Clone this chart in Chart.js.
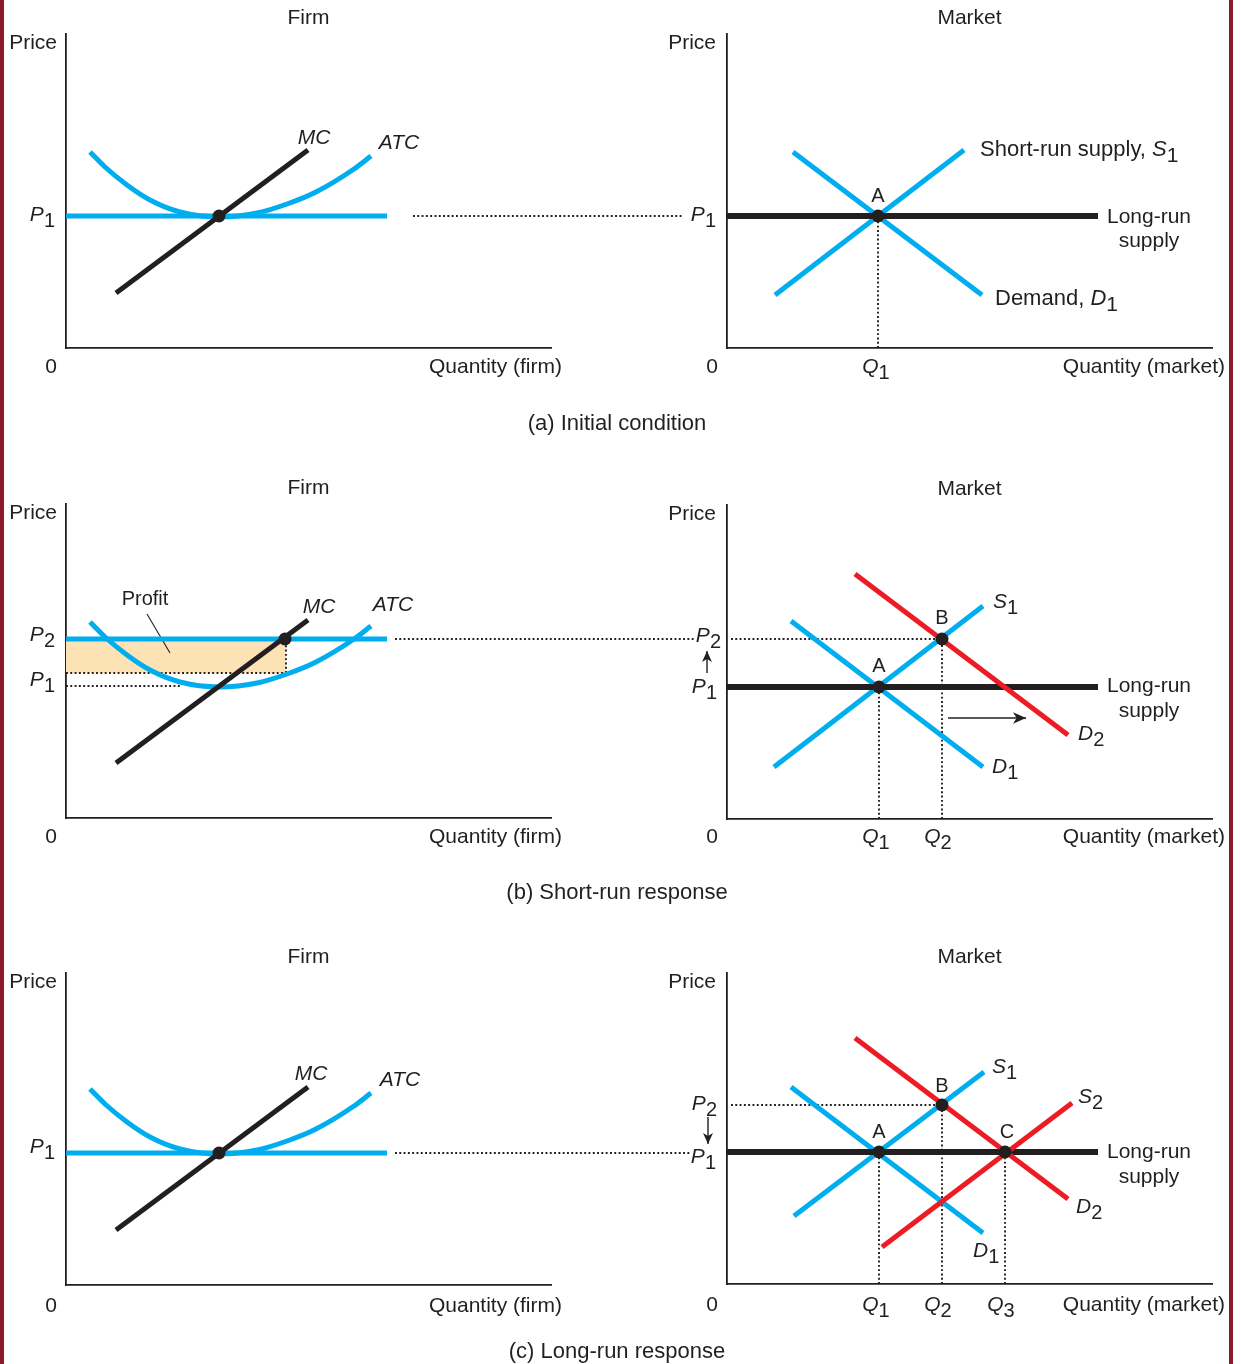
<!DOCTYPE html>
<html>
<head>
<meta charset="utf-8">
<title>Firm and market response to a rise in demand</title>
<script src="https://cdn.jsdelivr.net/npm/chart.js"></script>
<style>
  body { margin: 0; background: #fff; }
  #page { position: relative; width: 1241px; height: 1364px; overflow: hidden; background: #fff; }
  #page canvas { position: absolute; }
  .rule { position: absolute; top: 0; width: 4px; height: 1364px; background: #8b1a2c; }
</style>
</head>
<body>
<div id="page">
  <div class="rule" style="left:0"></div>
  <div class="rule" style="left:1229px"></div>
  <canvas id="firmA"></canvas>
  <canvas id="firmB"></canvas>
  <canvas id="firmC"></canvas>
  <canvas id="marketA"></canvas>
  <canvas id="marketB"></canvas>
  <canvas id="marketC"></canvas>
</div>
<script>
const INK = "#231f20";
const BLUE = "#00aeef";
const RED = "#ed1c24";
const PEACH = "#fde2b6";
const FONT = "'Liberation Sans', Arial, Helvetica, sans-serif";

// firm cost curves (same firm in every row), quantity vs cost
const atcQ = [24, 39, 61, 84, 114, 154, 191, 221, 250, 288, 305];
const atcCost = [196, 181, 163, 148, 136, 131, 135, 144, 156, 179, 192];
const mcQ = [50, 242];
const mcCost = [55, 198];
const firmPriceQ = [0, 321];
const prices = [132, 179];          // P1, P2
const firmMinATC = [[153, 132]];
const firmShortRun = [[219, 179]];
const profitQ = [0, 220];
const profitATC = 145;

// market curves, quantity vs price
const lrSupplyQ = [0, 371];
const s1A = [[48, 53], [237, 198]];
const d1A = [[66, 196], [255, 53]];
const eqA = [[151, 132]];
const s1B = [[47, 52], [256, 213]];
const d1B = [[64, 198], [256, 52]];
const d2B = [[128, 245], [341, 84]];
const eqB = [[152, 132], [215, 180]];
const s1C = [[67, 68], [257, 212]];
const d1C = [[64, 197], [256, 51]];
const d2C = [[128, 246], [341, 85]];
const s2C = [[155, 37], [345, 181]];
const eqC = [[152, 132], [215, 179], [278, 132]];

const pts = arr => arr.map(([x, y]) => ({x, y}));
const xy = (xs, ys) => xs.map((x, i) => ({x, y: ys[i]}));

function line(data, color, width, order, extra) {
    return Object.assign({data, showLine: true, borderColor: color, borderWidth: width,
        pointRadius: 0, fill: false, clip: false, order}, extra || {});
}
const dotted = data => line(data, INK, 1.9, 5, {borderDash: [1.9, 2.4]});
const dots = data => ({data: pts(data), showLine: false, pointRadius: 6.5, pointBackgroundColor: INK,
    pointBorderWidth: 0, clip: false, order: 0});
const drops = eq => eq.map(([q, p]) => dotted(pts([[q, 0], [q, p]])));

function drawLabel(ctx, it, px, py) {
    const size = it.size || 21;
    const parts = [];
    if (it.pre) parts.push([it.pre, `${size}px ${FONT}`, 0]);
    if (it.t) parts.push([it.t, `${it.it ? "italic " : ""}${size}px ${FONT}`, 0]);
    if (it.s) parts.push([it.s, `${size - 1}px ${FONT}`, 6]);
    let w = 0;
    parts.forEach(p => { ctx.font = p[1]; p.push(ctx.measureText(p[0]).width); w += p[3]; });
    let cx = it.align === "right" ? px - w : it.align === "center" ? px - w / 2 : px;
    ctx.textAlign = "left";
    ctx.textBaseline = "alphabetic";
    parts.forEach(p => { ctx.font = p[1]; ctx.fillText(p[0], cx, py + p[2]); cx += p[3]; });
}

function annotate(items) {
    return {
        id: "annotate",
        afterDatasetsDraw(chart) {
            const {ctx, scales: {x, y}} = chart;
            ctx.save();
            chart.data.datasets.forEach((ds, i) => {
                if (!ds.arrowHead) return;
                const el = chart.getDatasetMeta(i).data;
                const a = el[el.length - 2], b = el[el.length - 1];
                const ang = Math.atan2(b.y - a.y, b.x - a.x);
                const L = ds.arrowHead, W = L * 0.45, c = Math.cos(ang), s = Math.sin(ang);
                ctx.fillStyle = ds.borderColor;
                ctx.beginPath();
                ctx.moveTo(b.x, b.y);
                ctx.lineTo(b.x - L * c + W * s, b.y - L * s - W * c);
                ctx.lineTo(b.x - L * 0.72 * c, b.y - L * 0.72 * s);
                ctx.lineTo(b.x - L * c - W * s, b.y - L * s + W * c);
                ctx.closePath();
                ctx.fill();
            });
            ctx.fillStyle = INK;
            items.forEach(it => drawLabel(ctx, it, x.getPixelForValue(it.x), y.getPixelForValue(it.y)));
            ctx.restore();
        }
    };
}

function axisText(title, qName, yMax, base, priceX, qRight) {
    return [
        {x: 242.5, y: yMax + 10, t: title, align: "center"},
        {x: priceX, y: yMax - 15, t: "Price", align: "right"},
        {x: -15, y: base, t: "0", align: "center"},
        {x: qRight, y: base, t: qName, align: "right"}
    ];
}

function panel(id, box, datasets, items) {
    const cv = document.getElementById(id);
    cv.width = box.w;
    cv.height = box.h;
    cv.style.left = box.left + "px";
    cv.style.top = box.top + "px";
    const axis = {type: "linear", grid: {display: false, drawTicks: false}, ticks: {display: false},
        border: {color: INK, width: 1.8}};
    new Chart(cv, {
        type: "scatter",
        data: {datasets},
        options: {
            responsive: false,
            animation: false,
            events: [],
            layout: {padding: {left: box.axL - box.left, right: box.left + box.w - box.axR,
                top: box.axT - box.top, bottom: box.top + box.h - box.axB}},
            plugins: {legend: {display: false}, tooltip: {enabled: false}},
            scales: {
                x: Object.assign({min: 0, max: box.axR - box.axL}, axis),
                y: Object.assign({min: 0, max: box.axB - box.axT}, axis)
            }
        },
        plugins: [annotate(items)]
    });
}

const [P1, P2] = prices;
const firmCurves = () => [
    line(xy(mcQ, mcCost), INK, 5, 1),
    line(xy(atcQ, atcCost), BLUE, 5, 3, {cubicInterpolationMode: "monotone"})
];
const lrSupply = () => line(xy(lrSupplyQ, [P1, P1]), INK, 6, 2);

// (a) initial condition
panel("firmA", {left: 0, top: 0, w: 730, h: 440, axL: 66, axR: 551, axT: 34, axB: 348}, [
    dots(firmMinATC),
    ...firmCurves(),
    line(xy(firmPriceQ, [P1, P1]), BLUE, 5, 3),
    dotted(pts([[347, P1], [617, P1]]))
], [
    ...axisText("Firm", "Quantity (firm)", 314, -25, -9, 496),
    {x: 248, y: 204, t: "MC", it: true, align: "center"},
    {x: 333, y: 199, t: "ATC", it: true, align: "center"},
    {x: -11, y: 127, t: "P", s: "1", it: true, align: "right"},
    {x: 551, y: -82, t: "(a) Initial condition", align: "center", size: 22}
]);

panel("marketA", {left: 620, top: 0, w: 621, h: 440, axL: 727, axR: 1212, axT: 34, axB: 348}, [
    dots(eqA),
    lrSupply(),
    line(pts(s1A), BLUE, 5, 3),
    line(pts(d1A), BLUE, 5, 3),
    ...drops(eqA)
], [
    ...axisText("Market", "Quantity (market)", 314, -25, -11, 498),
    {x: 253, y: 192, pre: "Short-run supply, ", t: "S", s: "1", it: true, size: 22},
    {x: 268, y: 43, pre: "Demand, ", t: "D", s: "1", it: true, size: 22},
    {x: 151, y: 146, t: "A", align: "center", size: 20},
    {x: 422, y: 125, t: "Long-run", align: "center"},
    {x: 422, y: 101, t: "supply", align: "center"},
    {x: -11, y: 127, t: "P", s: "1", it: true, align: "right"},
    {x: 149, y: -25, t: "Q", s: "1", it: true, align: "center"}
]);

// (b) short-run response
panel("firmB", {left: 0, top: 470, w: 730, h: 440, axL: 66, axR: 551, axT: 504, axB: 818}, [
    dots(firmShortRun),
    ...firmCurves(),
    line(xy(firmPriceQ, [P2, P2]), BLUE, 5, 3),
    line(xy(profitQ, [P2, P2]), PEACH, 0, 8, {fill: {value: profitATC}, backgroundColor: PEACH}),
    dotted(xy(profitQ, [profitATC, profitATC])),
    dotted(xy([profitQ[1], profitQ[1]], [profitATC, P2])),
    dotted(pts([[0, P1], [116, P1]])),
    line(pts([[81, 204], [104, 165]]), INK, 1.1, 4),
    dotted(pts([[329, P2], [630, P2]]))
], [
    ...axisText("Firm", "Quantity (firm)", 314, -25, -9, 496),
    {x: 79, y: 213, t: "Profit", align: "center", size: 20},
    {x: 253, y: 205, t: "MC", it: true, align: "center"},
    {x: 327, y: 207, t: "ATC", it: true, align: "center"},
    {x: -11, y: 177, t: "P", s: "2", it: true, align: "right"},
    {x: -11, y: 132, t: "P", s: "1", it: true, align: "right"},
    {x: 551, y: -81, t: "(b) Short-run response", align: "center", size: 22}
]);

panel("marketB", {left: 620, top: 470, w: 621, h: 440, axL: 727, axR: 1212, axT: 505, axB: 819}, [
    dots(eqB),
    line(pts(d2B), RED, 5, 1),
    lrSupply(),
    line(pts(s1B), BLUE, 5, 3),
    line(pts(d1B), BLUE, 5, 3),
    ...drops(eqB),
    dotted(pts([[4, eqB[1][1]], eqB[1]])),
    line(pts([[-20, 146], [-20, 168]]), INK, 1.4, 4, {arrowHead: 11}),
    line(pts([[221, 101], [299, 101]]), INK, 1.4, 4, {arrowHead: 13})
], [
    ...axisText("Market", "Quantity (market)", 314, -24, -11, 498),
    {x: 266, y: 211, t: "S", s: "1", it: true},
    {x: 351, y: 79, t: "D", s: "2", it: true},
    {x: 265, y: 46, t: "D", s: "1", it: true},
    {x: 152, y: 147, t: "A", align: "center", size: 20},
    {x: 215, y: 195, t: "B", align: "center", size: 20},
    {x: -6, y: 177, t: "P", s: "2", it: true, align: "right"},
    {x: -10, y: 126, t: "P", s: "1", it: true, align: "right"},
    {x: 149, y: -24, t: "Q", s: "1", it: true, align: "center"},
    {x: 211, y: -24, t: "Q", s: "2", it: true, align: "center"},
    {x: 422, y: 127, t: "Long-run", align: "center"},
    {x: 422, y: 102, t: "supply", align: "center"}
]);

// (c) long-run response
panel("firmC", {left: 0, top: 940, w: 730, h: 424, axL: 66, axR: 551, axT: 973, axB: 1285}, [
    dots(firmMinATC),
    ...firmCurves(),
    line(xy(firmPriceQ, [P1, P1]), BLUE, 5, 3),
    dotted(pts([[329, P1], [625, P1]]))
], [
    ...axisText("Firm", "Quantity (firm)", 312, -27, -9, 496),
    {x: 245, y: 205, t: "MC", it: true, align: "center"},
    {x: 334, y: 199, t: "ATC", it: true, align: "center"},
    {x: -11, y: 132, t: "P", s: "1", it: true, align: "right"},
    {x: 551, y: -73, t: "(c) Long-run response", align: "center", size: 22}
]);

panel("marketC", {left: 620, top: 940, w: 621, h: 424, axL: 727, axR: 1212, axT: 973, axB: 1284}, [
    dots(eqC),
    line(pts(d2C), RED, 5, 1),
    line(pts(s2C), RED, 5, 1),
    lrSupply(),
    line(pts(s1C), BLUE, 5, 3),
    line(pts(d1C), BLUE, 5, 3),
    ...drops(eqC),
    dotted(pts([[4, eqC[1][1]], eqC[1]])),
    line(pts([[-19, 167], [-19, 140]]), INK, 1.4, 4, {arrowHead: 11})
], [
    ...axisText("Market", "Quantity (market)", 311, -27, -11, 498),
    {x: 265, y: 211, t: "S", s: "1", it: true},
    {x: 351, y: 181, t: "S", s: "2", it: true},
    {x: 349, y: 71, t: "D", s: "2", it: true},
    {x: 246, y: 27, t: "D", s: "1", it: true},
    {x: 152, y: 146, t: "A", align: "center", size: 20},
    {x: 215, y: 192, t: "B", align: "center", size: 20},
    {x: 280, y: 146, t: "C", align: "center", size: 20},
    {x: -10, y: 174, t: "P", s: "2", it: true, align: "right"},
    {x: -11, y: 121, t: "P", s: "1", it: true, align: "right"},
    {x: 149, y: -27, t: "Q", s: "1", it: true, align: "center"},
    {x: 211, y: -27, t: "Q", s: "2", it: true, align: "center"},
    {x: 274, y: -27, t: "Q", s: "3", it: true, align: "center"},
    {x: 422, y: 126, t: "Long-run", align: "center"},
    {x: 422, y: 101, t: "supply", align: "center"}
]);
</script>
</body>
</html>
